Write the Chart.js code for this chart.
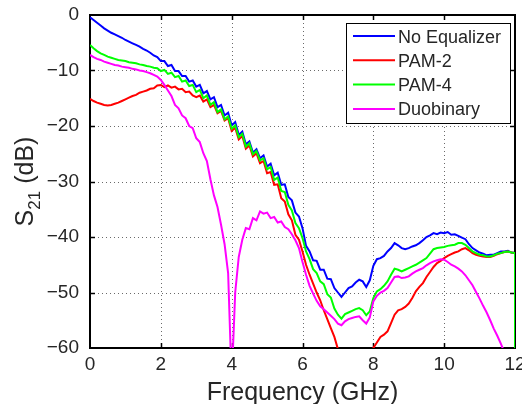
<!DOCTYPE html>
<html>
<head>
<meta charset="utf-8">
<script src="https://cdn.jsdelivr.net/npm/chart.js@4.4.1/dist/chart.umd.min.js"></script>
<style>
  html, body { margin: 0; padding: 0; background: #fff; }
  #wrap { width: 522px; height: 404px; }
</style>
</head>
<body>
<div id="wrap"><canvas id="chart" width="522" height="404"></canvas></div>
<script>
// frequency in GHz (last point repeated: traces drop off at the right edge)
const freq = [
  0, 0.1, 0.2, 0.3, 0.4, 0.5, 0.6, 0.7, 0.8, 0.9,
  1, 1.1, 1.2, 1.3, 1.4, 1.5, 1.6, 1.7, 1.8, 1.9,
  2, 2.1, 2.2, 2.3, 2.4, 2.5, 2.6, 2.7, 2.8, 2.9,
  3, 3.1, 3.2, 3.3, 3.4, 3.5, 3.6, 3.7, 3.8, 3.9,
  4, 4.1, 4.2, 4.3, 4.4, 4.5, 4.6, 4.7, 4.8, 4.9,
  5, 5.1, 5.2, 5.3, 5.4, 5.5, 5.6, 5.7, 5.8, 5.9,
  6, 6.1, 6.2, 6.3, 6.4, 6.5, 6.6, 6.7, 6.8, 6.9,
  7, 7.1, 7.2, 7.3, 7.4, 7.5, 7.6, 7.7, 7.8, 7.9,
  8, 8.1, 8.2, 8.3, 8.4, 8.5, 8.6, 8.7, 8.8, 8.9,
  9, 9.1, 9.2, 9.3, 9.4, 9.5, 9.6, 9.7, 9.8, 9.9,
  10, 10.1, 10.2, 10.3, 10.4, 10.5, 10.6, 10.7, 10.8, 10.9,
  11, 11.1, 11.2, 11.3, 11.4, 11.5, 11.6, 11.7, 11.8, 11.9,
  12, 12
];

// S21 in dB
const noEqualizer = [
  -0.4, -0.9, -1.4, -1.9, -2.4, -2.8, -3.2, -3.5, -3.8, -4.1,
  -4.5, -4.8, -5.1, -5.4, -5.7, -6.1, -6.4, -6.8, -7.3, -7.6,
  -8.3, -8.3, -9.2, -9.0, -10.1, -10.1, -11.0, -11.0, -12.0, -11.8,
  -12.9, -12.6, -14.1, -13.7, -15.2, -14.8, -16.6, -16.2, -18.1, -17.6,
  -19.9, -19.3, -21.6, -21.0, -23.3, -22.8, -24.8, -24.2, -25.8, -25.3,
  -27.3, -26.8, -28.9, -28.4, -30.6, -30.5, -32.8, -33.4, -35.6, -36.3,
  -38.4, -41.6, -42.6, -44.2, -44.3, -45.9, -45.9, -47.5, -47.6, -49.2,
  -50.0, -50.8, -50.0, -49.2, -48.9, -48.2, -47.7, -48.0, -49.0, -47.8,
  -45.2, -44.0, -43.8, -43.4, -42.6, -42.0, -41.1, -41.5, -42.0, -42.2,
  -42.0, -41.7, -41.5, -41.1, -40.6, -40.0, -39.7, -39.3, -39.5, -39.2,
  -39.3, -39.1, -39.6, -39.5, -39.8, -40.1, -40.4, -41.3, -42.0, -42.4,
  -42.8, -43.0, -43.3, -43.2, -43.2, -42.9, -42.6, -42.6, -42.5, -42.8,
  -42.9, -75
];
const pam2 = [
  -15.1, -15.5, -15.8, -16.0, -16.2, -16.3, -16.2, -16.0, -15.8, -15.5,
  -15.2, -14.9, -14.6, -14.4, -14.0, -13.8, -13.6, -13.3, -13.2, -12.7,
  -12.6, -13.0, -12.7, -13.1, -12.9, -13.4, -13.3, -13.9, -13.8, -14.5,
  -14.8, -14.5, -15.6, -15.2, -16.6, -16.2, -17.7, -17.3, -19.0, -18.6,
  -20.9, -20.3, -22.4, -21.8, -24.1, -23.5, -25.5, -24.9, -26.7, -26.3,
  -28.5, -28.3, -30.6, -30.5, -33.0, -33.6, -35.9, -37.0, -39.6, -40.5,
  -42.6, -45.0, -46.8, -48.4, -50.0, -51.4, -53.2, -54.8, -56.4, -58.0,
  -60.2, -61.5, -62.5, -63.5, -64.0, -64.0, -63.5, -63.0, -62.5, -61.5,
  -60.0, -59.0, -58.0, -57.6, -57.0, -55.5, -54.0, -53.2, -53.0, -52.6,
  -52.0, -51.0, -49.8, -49.0, -48.3, -47.2, -46.3, -45.4, -44.7, -44.3,
  -43.8, -43.4, -43.1, -42.8, -42.6, -42.2, -42.0, -42.4, -42.9, -43.2,
  -43.4, -43.5, -43.6, -43.6, -43.4, -43.1, -42.9, -42.7, -42.6, -42.8,
  -42.9, -75
];
const pam4 = [
  -5.4, -6.0, -6.5, -6.9, -7.2, -7.5, -7.7, -7.9, -8.1, -8.2,
  -8.3, -8.5, -8.6, -8.7, -8.9, -9.0, -9.2, -9.3, -9.5, -9.6,
  -10.1, -9.9, -10.6, -10.4, -11.2, -11.0, -12.0, -11.8, -12.8, -12.6,
  -13.9, -13.5, -15.0, -14.5, -16.2, -15.7, -17.5, -17.0, -18.8, -18.3,
  -20.5, -19.9, -22.0, -21.4, -23.7, -23.1, -25.1, -24.5, -26.2, -25.8,
  -27.8, -27.4, -29.7, -29.3, -31.7, -31.9, -34.2, -35.2, -37.5, -38.4,
  -40.2, -42.6, -44.0, -45.8, -46.5, -48.0, -48.5, -50.3, -50.9, -52.9,
  -54.0, -54.7, -53.9, -53.6, -53.3, -53.0, -52.8, -53.2, -54.1, -53.4,
  -51.0, -49.8, -49.4, -48.8, -48.0, -46.8, -45.7, -45.9, -46.2, -45.9,
  -45.6, -45.3, -45.0, -44.6, -44.2, -43.8, -43.0, -42.2, -42.0, -41.9,
  -41.8, -41.6, -41.5, -41.4, -41.1, -41.1, -41.4, -42.0, -42.6, -42.9,
  -43.2, -43.3, -43.5, -43.5, -43.3, -43.0, -42.9, -42.7, -42.6, -42.8,
  -42.9, -75
];
const duobinary = [
  -7.2, -7.6, -7.9, -8.1, -8.4, -8.6, -8.8, -9.0, -9.1, -9.3,
  -9.4, -9.5, -9.7, -9.8, -10.0, -10.1, -10.3, -10.5, -10.8, -11.1,
  -11.7, -12.6, -13.6, -14.6, -16.2, -16.8, -18.1, -18.6, -20.0, -20.4,
  -22.2, -22.9, -24.9, -26.3, -29.6, -32.5, -34.6, -37.8, -41.3, -46.5,
  -66.0, -50.0, -43.6, -40.5, -38.4, -38.6, -36.6, -37.0, -35.4, -35.8,
  -35.6, -36.6, -36.4, -37.4, -37.2, -38.2, -38.6, -39.5, -40.6, -42.0,
  -44.5, -46.8, -48.8, -50.2, -51.5, -52.5, -53.0, -53.6, -54.2, -54.8,
  -55.6, -55.9, -55.2, -54.8, -54.6, -54.4, -54.3, -55.0, -55.6, -54.5,
  -51.6, -50.6, -50.0, -49.7, -49.2, -48.2, -47.2, -47.1, -47.4, -47.3,
  -47.1, -46.6, -46.2, -45.9, -45.6, -45.1, -44.7, -44.4, -44.2, -44.0,
  -44.1, -44.5, -45.0, -45.3, -45.7, -46.2, -46.9, -47.8, -48.7, -49.9,
  -51.1, -52.4, -53.6, -55.0, -56.5, -57.8, -59.2, -60.8, -62.3, -63.8,
  -65.3, -75
];

const seriesNames = ['No Equalizer', 'PAM-2', 'PAM-4', 'Duobinary'];
const seriesValues = [noEqualizer, pam2, pam4, duobinary];
const seriesColors = ['#0000ff', '#ff0000', '#00ff00', '#ff00ff'];
const xTicks = [0, 2, 4, 6, 8, 10, 12];
const yTicks = [-60, -50, -40, -30, -20, -10, 0];

const FONT = '"Liberation Sans", Arial, sans-serif';
const TEXT = '#262626';

// matlab-like axes: dotted grid, box and inward ticks, drawn under the traces
const matlabAxes = {
  id: 'matlabAxes',
  beforeDatasetsDraw(chart) {
    const { ctx, chartArea: a, scales: { x, y } } = chart;
    const seg = (x1, y1, x2, y2) => { ctx.beginPath(); ctx.moveTo(x1, y1); ctx.lineTo(x2, y2); ctx.stroke(); };
    ctx.save();
    ctx.strokeStyle = '#6a6a6a';
    ctx.lineWidth = 1;
    ctx.setLineDash([1, 3]);
    xTicks.slice(1, -1).forEach(v => {
      const px = Math.round(x.getPixelForValue(v)) + 0.5;
      seg(px, a.top, px, a.bottom);
    });
    yTicks.slice(1, -1).forEach(v => {
      const py = Math.round(y.getPixelForValue(v)) + 0.5;
      seg(a.left, py, a.right, py);
    });
    ctx.setLineDash([]);
    ctx.strokeStyle = '#000';
    ctx.lineWidth = 1.5;
    const tl = 5;
    xTicks.slice(1, -1).forEach(v => {
      const px = Math.round(x.getPixelForValue(v)) + 0.5;
      seg(px, a.bottom, px, a.bottom - tl);
      seg(px, a.top, px, a.top + tl);
    });
    yTicks.slice(1, -1).forEach(v => {
      const py = Math.round(y.getPixelForValue(v)) + 0.5;
      seg(a.left, py, a.left + tl, py);
      seg(a.right, py, a.right - tl, py);
    });
    ctx.lineWidth = 2;
    ctx.strokeRect(a.left, a.top, a.right - a.left, a.bottom - a.top);
    ctx.restore();
  },
  afterDraw(chart) {
    const { ctx, chartArea: a } = chart;
    ctx.save();

    // y axis title with subscript
    const big = '25px ' + FONT, small = '17px ' + FONT;
    ctx.font = big;
    const wS = ctx.measureText('S').width;
    const wRest = ctx.measureText(' (dB)').width;
    ctx.font = small;
    const w21 = ctx.measureText('21').width;
    ctx.translate(33, (a.top + a.bottom) / 2);
    ctx.rotate(-Math.PI / 2);
    ctx.fillStyle = TEXT;
    ctx.textAlign = 'left';
    ctx.textBaseline = 'alphabetic';
    const x0 = -(wS + w21 + wRest) / 2;
    ctx.font = big;
    ctx.fillText('S', x0, 0);
    ctx.font = small;
    ctx.fillText('21', x0 + wS, 7);
    ctx.font = big;
    ctx.fillText(' (dB)', x0 + wS + w21, 0);
    ctx.restore();

    // legend box
    ctx.save();
    const lw = 164, lh = 100;
    const lx = Math.round(a.right) - 5 - lw, ly = Math.round(a.top) + 8;
    ctx.fillStyle = '#fff';
    ctx.fillRect(lx, ly, lw, lh);
    ctx.strokeStyle = '#000';
    ctx.lineWidth = 1;
    ctx.strokeRect(lx + 0.5, ly + 0.5, lw, lh);
    ctx.font = '18px ' + FONT;
    ctx.textAlign = 'left';
    ctx.textBaseline = 'alphabetic';
    seriesNames.forEach((name, i) => {
      const cy = ly + 13 + i * 24.3;
      ctx.strokeStyle = seriesColors[i];
      ctx.lineWidth = 2;
      ctx.beginPath();
      ctx.moveTo(lx + 7, cy);
      ctx.lineTo(lx + 49, cy);
      ctx.stroke();
      ctx.fillStyle = TEXT;
      ctx.fillText(name, lx + 52, cy + 6.5);
    });
    ctx.restore();
  }
};

const datasets = seriesValues.map((vals, i) => ({
  label: seriesNames[i],
  data: freq.map((f, k) => ({ x: f, y: vals[k] })),
  borderColor: seriesColors[i],
  backgroundColor: seriesColors[i],
  borderWidth: 2,
  pointRadius: 0,
  tension: 0,
  // later traces sit on top, as in the original plot
  order: seriesValues.length - i
}));

new Chart(document.getElementById('chart'), {
  type: 'line',
  data: { datasets },
  options: {
    responsive: false,
    animation: false,
    layout: { padding: { left: 0, top: 15, right: 7, bottom: 0 } },
    plugins: {
      legend: { display: false },
      tooltip: { enabled: false }
    },
    scales: {
      x: {
        type: 'linear',
        min: 0,
        max: 12,
        afterBuildTicks: s => { s.ticks = xTicks.map(v => ({ value: v })); },
        afterFit: s => { s.height = 56; s.paddingLeft = 0; s.paddingRight = 0; },
        ticks: {
          font: { family: FONT, size: 19 },
          color: TEXT,
          padding: -3,
          maxRotation: 0,
          autoSkip: false
        },
        grid: { display: false },
        border: { display: false },
        title: {
          display: true,
          text: 'Frequency (GHz)',
          font: { family: FONT, size: 25 },
          color: TEXT,
          padding: { top: 0, bottom: -4 }
        }
      },
      y: {
        type: 'linear',
        min: -60,
        max: 0,
        afterBuildTicks: s => { s.ticks = yTicks.map(v => ({ value: v })); },
        afterFit: s => { s.width = 90; s.paddingTop = 0; s.paddingBottom = 0; },
        ticks: {
          font: { family: FONT, size: 19 },
          color: TEXT,
          padding: 3,
          autoSkip: false,
          callback: v => String(v).replace('-', '\u2212')
        },
        grid: { display: false },
        border: { display: false }
      }
    }
  },
  plugins: [matlabAxes]
});
</script>
</body>
</html>
